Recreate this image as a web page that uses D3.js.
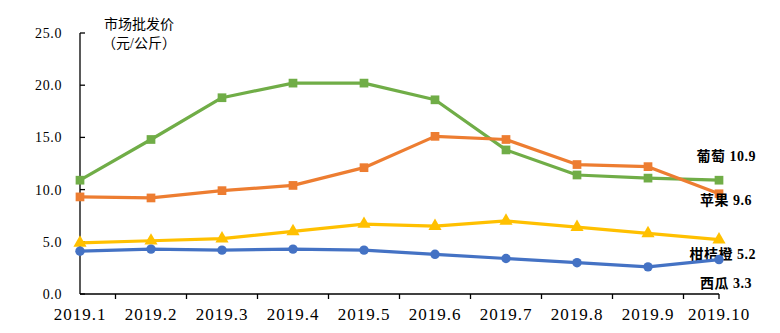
<!DOCTYPE html>
<html>
<head>
<meta charset="utf-8">
<script src="https://cdn.jsdelivr.net/npm/d3@7/dist/d3.min.js"></script>
<style>
  html, body { margin: 0; padding: 0; background: #fff; }
  svg { display: block; }
  text { font-family: "Liberation Serif", "Noto Sans CJK SC", serif; fill: #000; }
</style>
</head>
<body>
<svg id="chart" width="780" height="333"></svg>
<script>
// Monthly wholesale prices (元/公斤)
const months = ["2019.1","2019.2","2019.3","2019.4","2019.5","2019.6","2019.7","2019.8","2019.9","2019.10"];
const grape  = [10.9, 14.8, 18.8, 20.2, 20.2, 18.6, 13.8, 11.4, 11.1, 10.9];
const apple  = [9.3, 9.2, 9.9, 10.4, 12.1, 15.1, 14.8, 12.4, 12.2, 9.6];
const citrus = [4.9, 5.1, 5.3, 6.0, 6.7, 6.5, 7.0, 6.4, 5.8, 5.2];
const melon  = [4.1, 4.3, 4.2, 4.3, 4.2, 3.8, 3.4, 3.0, 2.6, 3.3];
const yTicks = [0, 5, 10, 15, 20, 25];

const series = [
  { name: "葡萄",   values: grape,  color: "#70AD47", marker: "square",   labelDy: -19, labelX: 756 },
  { name: "苹果",   values: apple,  color: "#ED7D31", marker: "square",   labelDy: 11,  labelX: 752 },
  { name: "柑桔橙", values: citrus, color: "#FFC000", marker: "triangle", labelDy: 19,  labelX: 756 },
  { name: "西瓜",   values: melon,  color: "#4472C4", marker: "circle",   labelDy: 28,  labelX: 752 }
];

const svg = d3.select("#chart");
const plotLeft = 80, plotRight = 719, plotTop = 33, plotBottom = 294;

const x = d3.scalePoint().domain(months).range([plotLeft, plotRight]);
const y = d3.scaleLinear().domain([0, 25]).range([plotBottom, plotTop]);

// Y axis: line with inward ticks
const gy = svg.append("g");
gy.append("line").attr("x1", plotLeft).attr("x2", plotLeft).attr("y1", plotTop).attr("y2", plotBottom)
  .attr("stroke", "#000").attr("stroke-width", 1.3);
gy.selectAll("line.tick").data(yTicks).join("line").attr("class", "tick")
  .attr("x1", plotLeft).attr("x2", plotLeft + 5)
  .attr("y1", d => y(d)).attr("y2", d => y(d))
  .attr("stroke", "#000").attr("stroke-width", 1.3);
gy.selectAll("text").data(yTicks).join("text")
  .attr("x", 62).attr("y", d => y(d) + 5)
  .attr("text-anchor", "end").attr("font-size", 14).attr("letter-spacing", 0.6)
  .text(d => d3.format(".1f")(d));

// X axis: ticks between categories, labels under points
const step = x.step();
const xTickPos = months.slice(1).map(m => x(m) - step / 2).concat([plotRight]);
const gx = svg.append("g");
gx.append("line").attr("x1", plotLeft).attr("x2", plotRight).attr("y1", plotBottom).attr("y2", plotBottom)
  .attr("stroke", "#000").attr("stroke-width", 1.3);
gx.selectAll("line.tick").data(xTickPos).join("line").attr("class", "tick")
  .attr("x1", d => d).attr("x2", d => d)
  .attr("y1", plotBottom).attr("y2", plotBottom + 5)
  .attr("stroke", "#000").attr("stroke-width", 1.3);
gx.selectAll("text").data(months).join("text")
  .attr("x", d => x(d)).attr("y", 320)
  .attr("text-anchor", "middle").attr("font-size", 17).attr("letter-spacing", 1)
  .text(d => d);

// Axis title
svg.append("text").attr("x", 139).attr("y", 29).attr("text-anchor", "middle")
  .attr("font-size", 14).text("市场批发价");
svg.append("text").attr("x", 139).attr("y", 48).attr("text-anchor", "middle")
  .attr("font-size", 14).text("（元/公斤）");

// Lines and markers
const line = d3.line().x((d, i) => x(months[i])).y(d => y(d));
const sym = {
  square: d3.symbol().type(d3.symbolSquare).size(76),
  triangle: d3.symbol().type(d3.symbolTriangle).size(75),
  circle: d3.symbol().type(d3.symbolCircle).size(70)
};

series.forEach(s => {
  const g = svg.append("g");
  g.append("path").datum(s.values).attr("d", line)
    .attr("fill", "none").attr("stroke", s.color).attr("stroke-width", 3.2)
    .attr("stroke-linejoin", "round");
  g.selectAll("path.m").data(s.values).join("path").attr("class", "m")
    .attr("d", sym[s.marker])
    .attr("transform", (d, i) => `translate(${x(months[i])},${y(d)})`)
    .attr("fill", s.color);
  const last = s.values[s.values.length - 1];
  g.append("text")
    .attr("x", s.labelX).attr("y", y(last) + s.labelDy)
    .attr("text-anchor", "end").attr("font-size", 14).attr("font-weight", "bold")
    .attr("letter-spacing", 0.5)
    .text(`${s.name} ${d3.format(".1f")(last)}`);
});
</script>
</body>
</html>
